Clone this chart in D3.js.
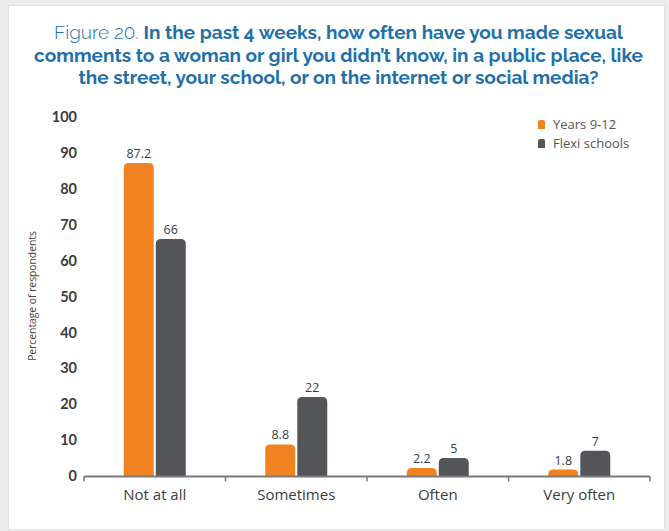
<!DOCTYPE html>
<html>
<head>
<meta charset="utf-8">
<script src="https://cdn.jsdelivr.net/npm/d3@7"></script>
<style>
  html, body { margin: 0; padding: 0; background: #ececec; }
  svg { display: block; }
</style>
</head>
<body>
<svg id="chart" width="669" height="531"></svg>
<script>
// Survey responses (percentage of respondents)
const categories = ["Not at all", "Sometimes", "Often", "Very often"];
const seriesNames = ["Years 9-12", "Flexi schools"];
const years912 = [87.2, 8.8, 2.2, 1.8];
const flexiSchools = [66, 22, 5, 7];
const yTicks = [0, 10, 20, 30, 40, 50, 60, 70, 80, 90, 100];
const colors = ["#f0821f", "#545559"];

const titleLines = [
  [{t: "Figure 20. ", w: 300}, {t: "In the past 4 weeks, how often have you made sexual", w: 700}],
  [{t: "comments to a woman or girl you didn\u2019t know, in a public place, like", w: 700}],
  [{t: "the street, your school, or on the internet or social media?", w: 700}]
];

const svg = d3.select("#chart");
const W = 669, H = 531;

// panel
svg.append("rect").attr("x", 8.5).attr("y", 5.5).attr("width", 656).attr("height", 524)
  .attr("fill", "#fff").attr("stroke", "#e2e2e2").attr("stroke-width", 1);

const fontFamily = "Raleway, 'Open Sans', Lato, sans-serif";

// title
const title = svg.append("text")
  .attr("text-anchor", "middle")
  .attr("font-family", fontFamily)
  .attr("font-size", 19)
  .attr("fill", "#2170aa");
titleLines.forEach((line, i) => {
  const tl = title.append("tspan").attr("x", W / 2 + 4).attr("y", 39 + i * 22.5);
  line.forEach(seg => {
    tl.append("tspan").attr("font-weight", seg.w).text(seg.t);
  });
});

// scales
const x0 = d3.scaleBand().domain(categories).range([84, 650]).paddingInner(0).paddingOuter(0);
const y = d3.scaleLinear().domain([0, 100]).range([476, 117]);
const barW = 30, gap = 2;
const x1 = d3.scaleBand().domain(seriesNames).range([-(barW + gap / 2), barW + gap / 2]).paddingInner(gap / (barW * 2 + gap) * 2).paddingOuter(0);

// y tick labels (no axis line)
const yAxis = d3.axisLeft(y).tickValues(yTicks).tickSize(0).tickPadding(0);
const gy = svg.append("g").attr("transform", "translate(77,0)").call(yAxis);
gy.select(".domain").remove();
gy.selectAll("text")
  .attr("font-family", "Lato, 'Open Sans', sans-serif")
  .attr("font-weight", 700)
  .attr("font-size", 14.5)
  .attr("fill", "#3c3c3c");

// y axis title
svg.append("text")
  .attr("transform", "translate(36,296) rotate(-90)")
  .attr("text-anchor", "middle")
  .attr("font-family", "'Open Sans', sans-serif")
  .attr("font-size", 10.3)
  .attr("fill", "#444")
  .text("Percentage of respondents");

// rounded-top bar path
function topRounded(x, yTop, w, h, r) {
  r = Math.min(r, h, w / 2);
  return `M${x},${yTop + h}V${yTop + r}Q${x},${yTop} ${x + r},${yTop}H${x + w - r}Q${x + w},${yTop} ${x + w},${yTop + r}V${yTop + h}Z`;
}

const data = categories.map((c, i) => ({
  cat: c,
  vals: [
    {name: seriesNames[0], v: years912[i], color: colors[0]},
    {name: seriesNames[1], v: flexiSchools[i], color: colors[1]}
  ]
}));

const groups = svg.selectAll("g.cat").data(data).join("g")
  .attr("class", "cat")
  .attr("transform", d => `translate(${x0(d.cat) + x0.bandwidth() / 2},0)`);

groups.selectAll("path.bar").data(d => d.vals).join("path")
  .attr("class", "bar")
  .attr("fill", d => d.color)
  .attr("d", d => topRounded(x1(d.name), y(d.v), x1.bandwidth(), y(0) - y(d.v), 5));

groups.selectAll("text.val").data(d => d.vals).join("text")
  .attr("class", "val")
  .attr("x", d => x1(d.name) + x1.bandwidth() / 2)
  .attr("y", d => y(d.v) - 5)
  .attr("text-anchor", "middle")
  .attr("font-family", "'Open Sans', sans-serif")
  .attr("font-size", 12.5)
  .attr("fill", "#3c3c3c")
  .text(d => d.v);

// x axis
const xAxis = d3.axisBottom(x0).tickSize(0).tickPadding(0);
const gx = svg.append("g").attr("transform", "translate(0,476.5)");
gx.append("line").attr("x1", 84).attr("x2", 650).attr("y1", 0).attr("y2", 0)
  .attr("stroke", "#7a7a7a").attr("stroke-width", 2);
const boundaries = categories.map(c => x0(c)).concat([x0.range()[1]]);
gx.selectAll("line.tick").data(boundaries).join("line")
  .attr("class", "tick")
  .attr("x1", d => d).attr("x2", d => d).attr("y1", 0).attr("y2", 5)
  .attr("stroke", "#7a7a7a").attr("stroke-width", 1.5);
const gxl = svg.append("g").attr("transform", "translate(0,486)").call(xAxis);
gxl.select(".domain").remove();
gxl.selectAll("text")
  .attr("font-family", "'Open Sans', sans-serif")
  .attr("font-size", 15)
  .attr("fill", "#3c3c3c")
  .attr("dy", "0.9em");

// legend
const legend = svg.append("g").attr("transform", "translate(538,120)");
seriesNames.forEach((name, i) => {
  const g = legend.append("g").attr("transform", `translate(0,${i * 19})`);
  g.append("path").attr("fill", colors[i]).attr("d", topRounded(0, 0, 7, 9, 2));
  g.append("text").attr("x", 15).attr("y", 9)
    .attr("font-family", "'Open Sans', sans-serif")
    .attr("font-size", 13)
    .attr("fill", "#555")
    .text(name);
});
</script>
</body>
</html>
